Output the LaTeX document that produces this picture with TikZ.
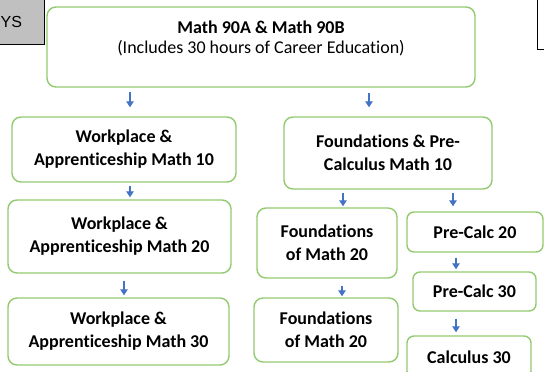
\documentclass[tikz,border=0pt]{standalone}
\usepackage{fontspec}
\setmainfont[Ligatures=CommonOff]{Carlito}
\newfontfamily\tabfont{Liberation Sans}
\usetikzlibrary{arrows.meta}
\definecolor{boxgreen}{RGB}{146,202,112}
\definecolor{arrowblue}{RGB}{68,114,196}
\definecolor{tabgrey}{RGB}{192,192,192}

\begin{document}
\begin{tikzpicture}[x=1pt,y=-1pt,
  course/.style={draw=boxgreen,line width=1.4pt,rounded corners=9pt,fill=white,align=center,inner sep=0pt,font=\fontsize{18}{23}\selectfont\bfseries},
  arr/.style={draw=arrowblue,line width=1.3pt,-{Triangle[length=6pt,width=7.5pt]}}]
\useasboundingbox (0,0) rectangle (544,372);
\clip (0,0) rectangle (544,372);
\fill[white] (0,0) rectangle (544,372);

% tabs cut off at the edges
\draw[fill=tabgrey,line width=0.8pt] (-2,-2) rectangle (44,44);
\node[anchor=west,inner sep=0pt,font=\tabfont\fontsize{16}{16}\selectfont] (tab) at (0.5,22) {YS};
\draw[fill=white,line width=0.8pt] (537,-2) rectangle (550,49);

% courses
\node[course,minimum width=428pt,minimum height=80pt,font=\fontsize{18}{20}\selectfont\bfseries] (top) at (261,47)
  {Math 90A \& Math 90B\\\mdseries (Includes 30 hours of Career Education)\\\mbox{}};

\node[course,minimum width=224pt,minimum height=65pt] (w10) at (124,149.5) {Workplace \&\\Apprenticeship Math 10};
\node[course,minimum width=223pt,minimum height=73pt] (w20) at (119.5,236.5) {Workplace \&\\Apprenticeship Math 20};
\node[course,minimum width=221pt,minimum height=67pt] (w30) at (118.5,331.5) {Workplace \&\\Apprenticeship Math 30};

\node[course,minimum width=208pt,minimum height=72pt] (fp10) at (388,153) {Foundations \& Pre-\\Calculus Math 10};
\node[course,minimum width=140pt,minimum height=70pt] (f20a) at (327,243) {Foundations\\of Math 20};
\node[course,minimum width=144pt,minimum height=64pt] (f20b) at (326,330) {Foundations\\of Math 20};

\node[course,minimum width=136pt,minimum height=40pt,rounded corners=7pt] (pc20) at (475,232) {Pre-Calc 20};
\node[course,minimum width=123pt,minimum height=39pt,rounded corners=7pt] (pc30) at (474.5,291.5) {Pre-Calc 30};
\node[course,minimum width=124pt,minimum height=42pt,rounded corners=7pt] (c30) at (469,357) {Calculus 30};

% arrows
\draw[arr,shorten <=4pt,shorten >=9pt] (top.south -| 130,0) -- (w10.north -| 130,0);
\draw[arr,shorten <=5pt,shorten >=9pt] (top.south -| 369,0) -- (fp10.north -| 369,0);
\draw[arr,shorten <=3pt,shorten >=2pt] (w10.south -| 130,0) -- (w20.north -| 130,0);
\draw[arr,shorten <=7pt,shorten >=2pt] (w20.south -| 124,0) -- (w30.north -| 124,0);
\draw[arr,shorten <=3pt,shorten >=1pt] (fp10.south -| 343,0) -- (f20a.north -| 343,0);
\draw[arr,shorten <=3pt,shorten >=5pt] (fp10.south -| 453,0) -- (pc20.north -| 453,0);
\draw[arr,shorten <=7pt,shorten >=1pt] (f20a.south -| 342,0) -- (f20b.north -| 342,0);
\draw[arr,shorten <=5pt,shorten >=2pt] (pc20.south -| 456,0) -- (pc30.north -| 456,0);
\draw[arr,shorten <=7pt,shorten >=3pt] (pc30.south -| 456,0) -- (c30.north -| 456,0);
\end{tikzpicture}
\end{document}
